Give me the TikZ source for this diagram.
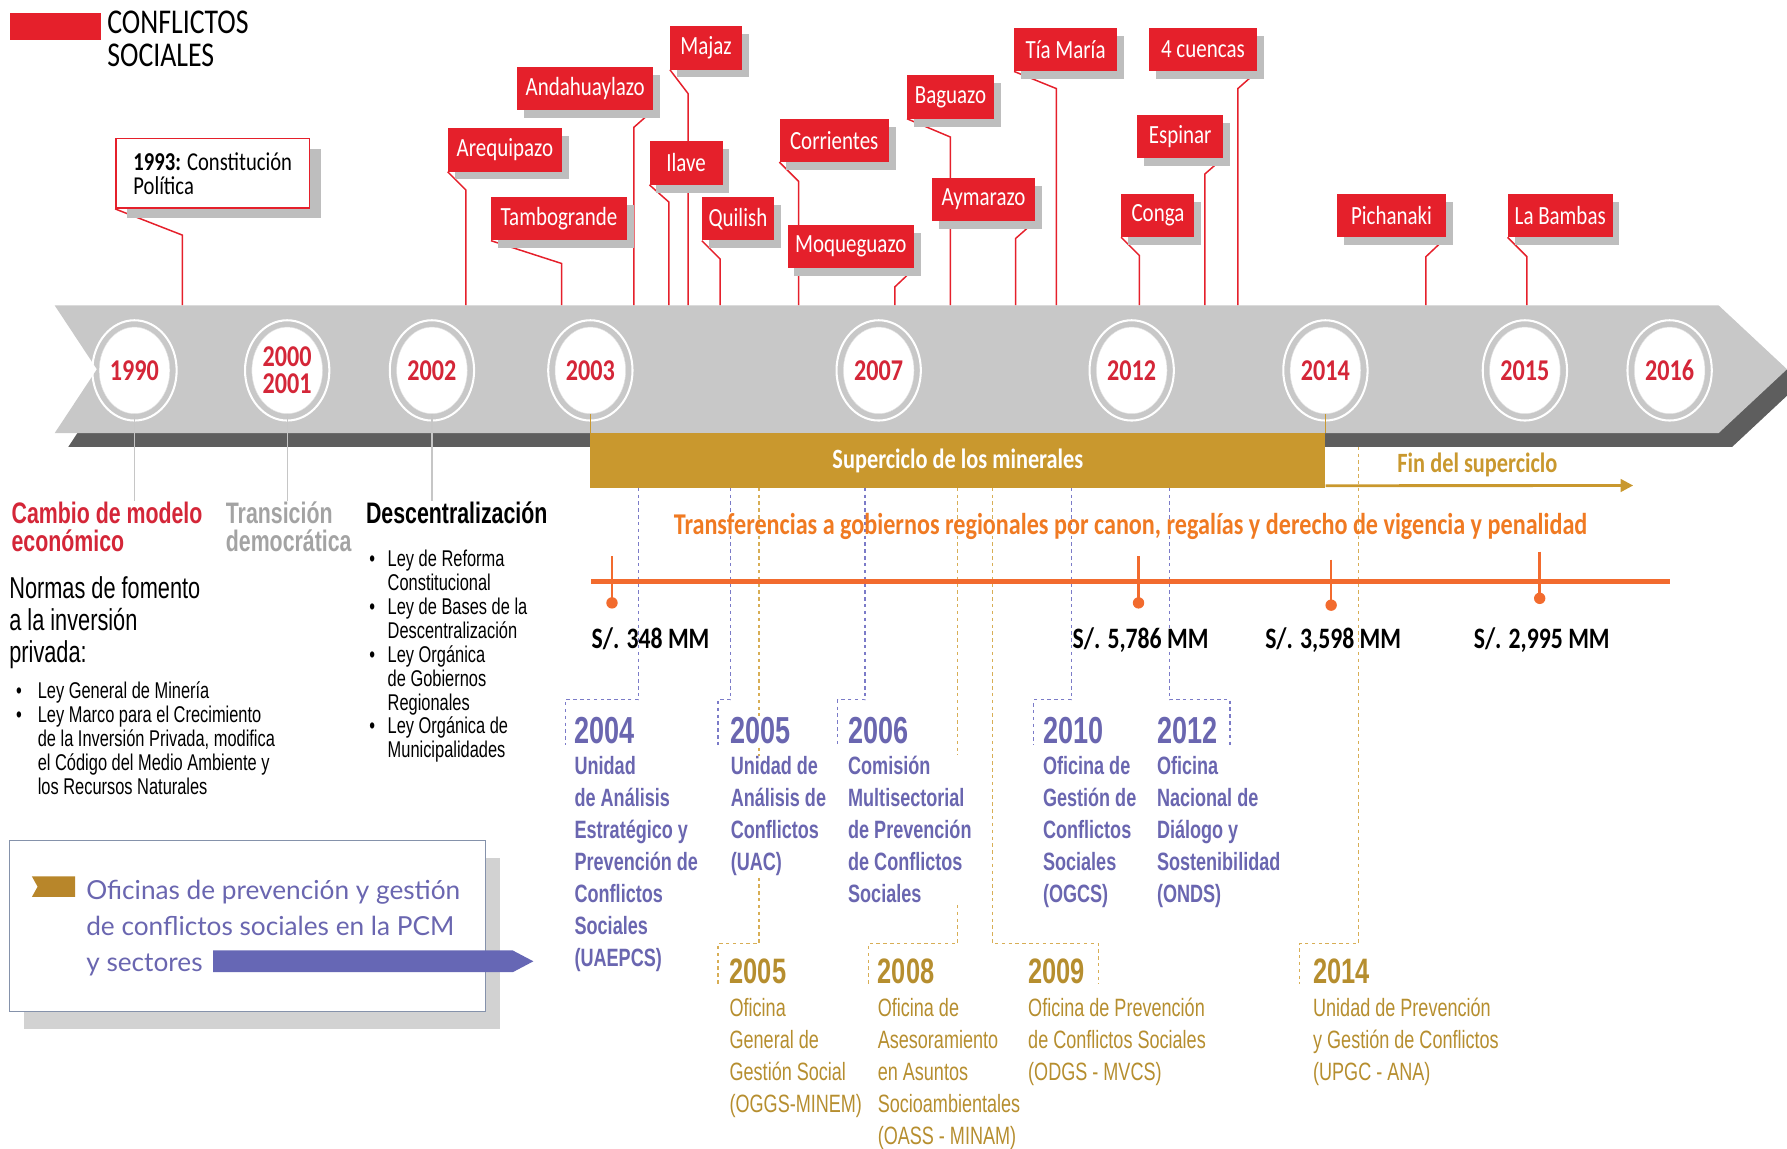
\documentclass[tikz,border=0pt]{standalone}
\usepackage{fontspec}
\setmainfont{Carlito}[FakeStretch=0.8]
\newfontfamily\narrowsf{Liberation Sans}[FakeStretch=0.72]
\newfontfamily\roundsf{Lato}
\usepackage{tikz}
\usetikzlibrary{shapes.geometric, arrows.meta, shadows}
\pgfdeclarelayer{bg}
\pgfsetlayers{bg,main}
\definecolor{confred}{HTML}{E5202B}
\definecolor{yearred}{HTML}{D42638}
\definecolor{bandgray}{HTML}{C8C8C8}
\definecolor{banddark}{HTML}{5E5E5E}
\definecolor{supergold}{HTML}{C9982E}
\definecolor{goldtxt}{HTML}{B68E2F}
\definecolor{dashgold}{HTML}{D8AE55}
\definecolor{orangeln}{HTML}{F26B2E}
\definecolor{orangetxt}{HTML}{F07A22}
\definecolor{purpletxt}{HTML}{6A66B0}
\definecolor{dashpurple}{HTML}{7B7BC8}
\definecolor{purplearr}{HTML}{6667B5}
\definecolor{boxedge}{HTML}{8592AB}
\definecolor{graytxt}{HTML}{A3A3A3}
\definecolor{shadowgray}{HTML}{BEBEBE}
\definecolor{flaggold}{HTML}{B8862A}
\newcommand{\fsz}[2]{\fontsize{#1}{#2}\selectfont}
\newcommand{\bul}[1][14pt]{\llap{\textbullet\hspace{#1}}}
\tikzstyle{pin} = [confred, line width=1.3pt]
\tikzstyle{pdash} = [dashpurple, line width=1pt, dash pattern=on 3pt off 3pt]
\tikzstyle{gdash} = [dashgold, line width=1pt, dash pattern=on 3pt off 3pt]

\begin{document}
\begin{tikzpicture}[x=1pt,y=-1pt,
	conf/.style={rectangle, fill=confred, text=white, minimum height=38pt, inner sep=0pt, font=\fsz{23}{23}, general shadow={fill=shadowgray, shadow xshift=6pt, shadow yshift=-7pt}},
	yr/.style={ellipse, fill=white, draw=gray!25, minimum width=62pt, minimum height=76pt, inner sep=0pt, text=yearred, align=center, font=\bfseries\fsz{26.5}{24}},
	ring/.style={white, line width=1.8pt},
	lab/.style={anchor=base west, inner sep=0pt, align=left, font=\narrowsf\bfseries\fsz{26}{25}},
	body/.style={anchor=base west, inner sep=0pt, align=left, font=\narrowsf\fsz{20}{21}},
	amt/.style={anchor=base west, inner sep=0pt, font=\bfseries\fsz{26}{26}},
	pyear/.style={anchor=base west, inner sep=1pt, fill=white, text=purpletxt, font=\narrowsf\bfseries\fsz{33}{33}},
	ptext/.style={anchor=base west, inner sep=1pt, fill=white, align=left, text=purpletxt, font=\narrowsf\bfseries\fsz{22}{28}},
	gyear/.style={anchor=base west, inner sep=0pt, text=goldtxt, font=\narrowsf\bfseries\fsz{31}{31}},
	gtext/.style={anchor=base west, inner sep=0pt, align=left, text=goldtxt, font=\narrowsf\fsz{22}{28}},
	ordot/.style={circle, fill=orangeln, inner sep=0pt, minimum size=10pt},
	ortick/.style={orangeln, line width=2.2pt},
	glink/.style={gray!45, line width=1.2pt}]

	\useasboundingbox (0,0) rectangle (1568,1008);

	% legend (multi-line nodes sit on their last baseline)
	\node[fill=confred, minimum width=79pt, minimum height=23.5pt, inner sep=0pt, anchor=north west] (leg) at (9,11) {};
	\node[anchor=base west, inner sep=0pt, align=left, font=\fsz{30.5}{29.5}] (legtxt) at (94,58.5) {CONFLICTOS\\SOCIALES};

	% timeline band
	\fill[banddark] (60,280) -- (1520,280) -- (1580,336) -- (1520,392) -- (60,392) -- (97,336) -- cycle;
	\fill[bandgray] (48,268) -- (1508,268) -- (1568,324) -- (1508,380) -- (48,380) -- (85,324) -- cycle;
	\coordinate (bandtop) at (0,268);

	\node[fill=supergold, minimum width=645pt, minimum height=48pt, inner sep=0pt, text=white, font=\bfseries\fsz{24.5}{24.5}] (super) at (840.5,404) {Superciclo de los minerales};

	% years
	\node[yr] (y1990) at (118,325) {1990};
	\node[yr] (y2000) at (252,325) {2000\\2001};
	\node[yr] (y2002) at (379,325) {2002};
	\node[yr] (y2003) at (518,325) {2003};
	\node[yr] (y2007) at (771,325) {2007};
	\node[yr] (y2012) at (993,325) {2012};
	\node[yr] (y2014) at (1163,325) {2014};
	\node[yr] (y2015) at (1338,325) {2015};
	\node[yr] (y2016) at (1465,325) {2016};
	\foreach \c in {y1990,y2000,y2002,y2003,y2007,y2012,y2014,y2015,y2016}
		\draw[ring] (\c.center) ellipse [x radius=37pt, y radius=44pt];

	\draw[supergold, line width=1.3pt] (y2003.south) -- (y2003.south |- super.north);
	\draw[supergold, line width=1.3pt] (y2014.south) -- (y2014.south |- super.north);

	% left labels
	\node[lab, text=yearred] (cambio) at (10,484) {Cambio de modelo\\económico};
	\node[lab, text=graytxt] (trans) at (198,484) {Transición\\democrática};
	\node[lab] (desc) at (321,459) {Descentralización};

	\draw[glink] (y1990.south) -- (y1990.south |- cambio.north);
	\draw[glink] (y2000.south) -- (y2000.south |- trans.north);
	\draw[glink] (y2002.south) -- (y2002.south |- desc.north);

	\node[body, font=\narrowsf\fsz{26.5}{28}] (normas) at (8,581.5) {Normas de fomento\\a la inversión\\privada:};
	\node[body] (mineria) at (33,697) {\bul Ley General de Minería\\\bul Ley Marco para el Crecimiento\\de la Inversión Privada, modifica\\el Código del Medio Ambiente y\\los Recursos Naturales};
	\node[body] (leyes) at (340,665) {\bul[11pt]Ley de Reforma\\Constitucional\\\bul[11pt]Ley de Bases de la\\Descentralización\\\bul[11pt]Ley Orgánica\\de Gobiernos\\Regionales\\\bul[11pt]Ley Orgánica de\\Municipalidades};

	% conflicts
	\node[draw=confred, line width=1.3pt, fill=white, anchor=north west, minimum width=170pt, minimum height=61pt, inner sep=0pt, align=left, font=\fsz{22.6}{21}, general shadow={fill=shadowgray, shadow xshift=10pt, shadow yshift=-9pt}] (c1993) at (101,121) {\textbf{1993:} Constitución\\Política};

	\node[conf, minimum width=119pt] (andah) at (513.5,77.5) {Andahuaylazo};
	\node[conf, minimum width=100pt] (areq) at (443,131.5) {Arequipazo};
	\node[conf, minimum width=119pt] (tamb) at (490.5,192) {Tambogrande};
	\node[conf, minimum width=63pt] (majaz) at (619.5,42) {Majaz};
	\node[conf, minimum width=64pt] (ilave) at (602,143) {Ilave};
	\node[conf, minimum width=63pt] (quil) at (647.5,192) {Quilish};
	\node[conf, minimum width=96pt] (corr) at (732,123) {Corrientes};
	\node[conf, minimum width=111pt] (moq) at (746.5,216.5) {Moqueguazo};
	\node[conf, minimum width=76pt] (bag) at (834,85) {Baguazo};
	\node[conf, minimum width=90pt] (aym) at (863,175) {Aymarazo};
	\node[conf, minimum width=90pt] (tia) at (935,43.5) {Tía María};
	\node[conf, minimum width=95pt] (cuen) at (1055.5,43.5) {4 cuencas};
	\node[conf, minimum width=75pt] (esp) at (1035.5,119.5) {Espinar};
	\node[conf, minimum width=64pt] (conga) at (1016,189) {Conga};
	\node[conf, minimum width=96pt] (pich) at (1221,189) {Pichanaki};
	\node[conf, minimum width=92pt] (bamb) at (1369,189) {La Bambas};

	\begin{pgfonlayer}{bg}
	\draw[pin] (c1993.south west) -- ++(59,23) coordinate (e) -- (e |- bandtop);
	\draw[pin] (areq.south west) -- ++(16,16) coordinate (e) -- (e |- bandtop);
	\draw[pin] (tamb.south west) -- ++(62,20) coordinate (e) -- (e |- bandtop);
	\draw[pin] (andah.south east) -- ++(-17,15) coordinate (e) -- (e |- bandtop);
	\draw[pin] (ilave.south west) -- ++(17,15) coordinate (e) -- (e |- bandtop);
	\draw[pin] (majaz.south west) -- ++(16,21) coordinate (e) -- (e |- bandtop);
	\draw[pin] (quil.south west) -- ++(16,16) coordinate (e) -- (e |- bandtop);
	\draw[pin] (corr.south west) -- ++(17,17) coordinate (e) -- (e |- bandtop);
	\draw[pin] (moq.south east) -- ++(-17,16) coordinate (e) -- (e |- bandtop);
	\draw[pin] (bag.south west) -- ++(38,16) coordinate (e) -- (e |- bandtop);
	\draw[pin] (aym.south east) -- ++(-17,15) coordinate (e) -- (e |- bandtop);
	\draw[pin] (tia.south west) -- ++(37,15) coordinate (e) -- (e |- bandtop);
	\draw[pin] (cuen.south east) -- ++(-17,15) coordinate (e) -- (e |- bandtop);
	\draw[pin] (esp.south east) -- ++(-16,14) coordinate (e) -- (e |- bandtop);
	\draw[pin] (conga.south west) -- ++(16,16) coordinate (e) -- (e |- bandtop);
	\draw[pin] (pich.south east) -- ++(-18,17) coordinate (e) -- (e |- bandtop);
	\draw[pin] (bamb.south west) -- ++(17,17) coordinate (e) -- (e |- bandtop);
	\end{pgfonlayer}

	% transfers
	\node[anchor=base, inner sep=0pt, text=orangetxt, font=\bfseries\fsz{26.5}{26.5}] (transf) at (992,469) {Transferencias a gobiernos regionales por canon, regalías y derecho de vigencia y penalidad};
	\coordinate (o0) at (519,510);
	\coordinate (o1) at (1465,510);
	\draw[orangeln, line width=4pt] (o0) -- (o1);
	\node[ordot] (d1) at (537,529) {};
	\node[ordot] (d2) at (999,529) {};
	\node[ordot] (d3) at (1168,531) {};
	\node[ordot] (d4) at (1351,525) {};
	\coordinate (k1) at (537,488);
	\coordinate (k2) at (999,488);
	\coordinate (k3) at (1168,491);
	\coordinate (k4) at (1351,484);
	\draw[ortick] (k1) -- (d1.center);
	\draw[ortick] (k2) -- (d2.center);
	\draw[ortick] (k3) -- (d3.center);
	\draw[ortick] (k4) -- (d4.center);
	\node[amt] (m348) at (519,569) {S/. 348 MM};
	\node[amt] (m5786) at (941,569) {S/. 5,786 MM};
	\node[amt] (m3598) at (1110,569) {S/. 3,598 MM};
	\node[amt] (m2995) at (1293,569) {S/. 2,995 MM};

	% end of supercycle
	\node[anchor=base west, inner sep=0pt, text=supergold, font=\bfseries\fsz{24.5}{24.5}] (fin) at (1226,414.5) {Fin del superciclo};
	\coordinate (finend) at (1433,426);
	\draw[supergold, line width=2.5pt, -{Triangle[length=11pt, width=11pt]}] ([yshift=2pt]super.south east) -- (finend);

	% offices PCM
	\node[pyear] (yr2004) at (503,652) {2004};
	\node[ptext] (tx2004) at (503,848) {Unidad\\de Análisis\\Estratégico y\\Prevención de\\Conflictos\\Sociales\\(UAEPCS)};
	\node[pyear] (yr2005) at (640,652) {2005};
	\node[ptext] (tx2005) at (640,764) {Unidad de\\Análisis de\\Conflictos\\(UAC)};
	\node[pyear] (yr2006) at (743,652) {2006};
	\node[ptext] (tx2006) at (743,792) {Comisión\\Multisectorial\\de Prevención\\de Conflictos\\Sociales};
	\node[pyear] (yr2010) at (914,652) {2010};
	\node[ptext] (tx2010) at (914,792) {Oficina de\\Gestión de\\Conflictos\\Sociales\\(OGCS)};
	\node[pyear] (yr2012) at (1014,652) {2012};
	\node[ptext] (tx2012) at (1014,792) {Oficina\\Nacional de\\Diálogo y\\Sostenibilidad\\(ONDS)};

	% offices sectors
	\node[gyear] (gy2005) at (640,863) {2005};
	\node[gtext] (gt2005) at (640,976) {Oficina\\General de\\Gestión Social\\(OGGS-MINEM)};
	\node[gyear] (gy2008) at (770,863) {2008};
	\node[gtext] (gt2008) at (770,1004) {Oficina de\\Asesoramiento\\en Asuntos\\Socioambientales\\(OASS - MINAM)};
	\node[gyear] (gy2009) at (902,863) {2009};
	\node[gtext] (gt2009) at (902,948) {Oficina de Prevención\\de Conflictos Sociales\\(ODGS - MVCS)};
	\node[gyear] (gy2014) at (1152,863) {2014};
	\node[gtext] (gt2014) at (1152,948) {Unidad de Prevención\\y Gestión de Conflictos\\(UPGC - ANA)};

	\coordinate (p4) at (560,428);
	\coordinate (p5) at (641,428);
	\coordinate (p6) at (759,428);
	\coordinate (p10) at (940,428);
	\coordinate (p12) at (1026,428);
	\coordinate (g5) at (666,428);
	\coordinate (g8) at (840,428);
	\coordinate (g9) at (871,428);
	\coordinate (g14) at (1192,392);

	\begin{pgfonlayer}{bg}
	\draw[pdash] (p4) -- ++(0,186) -| ([xshift=-7pt]yr2004.south west);
	\draw[pdash] (p5) -- ++(0,186) -| ([xshift=-10pt]yr2005.south west);
	\draw[pdash] (p6) -- ++(0,186) -| ([xshift=-8pt]yr2006.south west);
	\draw[pdash] (p10) -- ++(0,186) -| ([xshift=-7pt]yr2010.south west);
	\draw[pdash] (p12) -- ++(0,186) -| ([xshift=10pt]yr2012.south east);
	\draw[gdash] (g5) -- ++(0,400) -| ([xshift=-10pt]gy2005.south west);
	\draw[gdash] (g8) -- ++(0,400) -| ([xshift=-8pt]gy2008.south west);
	\draw[gdash] (g9) -- ++(0,400) -| ([xshift=12pt]gy2009.south east);
	\draw[gdash] (g14) -- ++(0,436) -| ([xshift=-12pt]gy2014.south west);
	\end{pgfonlayer}

	% legend box
	\node[draw=boxedge, fill=white, line width=1pt, minimum width=418pt, minimum height=150pt, inner sep=0pt, general shadow={fill=gray!35, shadow xshift=13pt, shadow yshift=-15pt}] (pcm) at (217,812.5) {};
	\fill[flaggold] (28,769) -- (66,769) -- (66,787) -- (28,787) -- (33,778) -- cycle;
	\node[anchor=base west, inner sep=0pt, align=left, text=purpletxt, font=\roundsf\fsz{23}{31.5}] (ofi) at (75.5,852.5) {Oficinas de prevención y gestión\\de conflictos sociales en la PCM\\y sectores};
	\fill[purplearr] (187,834) -- (450,834) -- (468,843.5) -- (450,853) -- (187,853) -- cycle;

\end{tikzpicture}
\end{document}
